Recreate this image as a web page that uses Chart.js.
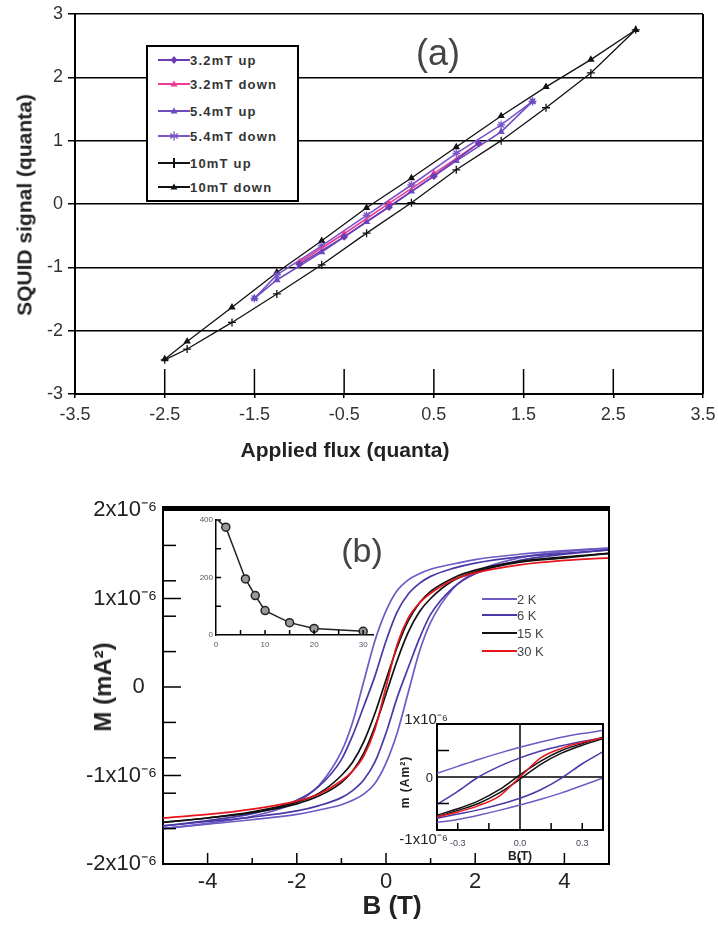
<!DOCTYPE html>
<html lang="en">
<head>
<meta charset="utf-8">
<title>SQUID signal and magnetisation loops</title>
<script src="https://cdn.jsdelivr.net/npm/chart.js@4.4.1/dist/chart.umd.min.js"></script>
<style>
  html, body { margin: 0; padding: 0; background: #fff; }
  body { position: relative; width: 718px; height: 931px; overflow: hidden;
         font-family: "Liberation Sans", Arial, sans-serif; color: #222; }
  canvas { position: absolute; }
  .t { position: absolute; white-space: nowrap; line-height: 1; }
  .c { transform: translate(-50%, -50%); }
  .r { transform: translate(-100%, -50%); }
  .rot { transform: translate(-50%, -50%) rotate(-90deg); }
  #legendA { position: absolute; left: 146px; top: 45px; width: 149px; height: 153px;
             border: 2px solid #000; background: #fff; }
  .row { position: absolute; display: flex; align-items: center; height: 14px; }
  #legendA span { font-weight: bold; font-size: 13px; letter-spacing: 1.2px; color: #333; }
  .legB span { font-size: 13px; color: #444; }
  .legB i { display: inline-block; width: 35px; height: 2px; }
</style>
</head>
<body>
<canvas id="chartA" width="718" height="470" style="left:0;top:0"></canvas>
<canvas id="chartB" width="718" height="441" style="left:0;top:490px"></canvas>
<canvas id="insetT" width="200" height="150" style="left:180px;top:505px"></canvas>
<canvas id="insetB" width="238" height="160" style="left:380px;top:700px"></canvas>

<div class="t rot" style="left:24px;top:205px;font-weight:bold;font-size:21px">SQUID signal (quanta)</div>
<div class="t c" style="left:345px;top:449px;font-weight:bold;font-size:21px">Applied flux (quanta)</div>
<div class="t c" style="left:438px;top:53px;font-size:36px;color:#444">(a)</div>
<div id="legendA"></div>

<div class="t rot" style="left:103px;top:687px;font-weight:bold;font-size:24px">M (mA²)</div>
<div class="t c" style="left:392px;top:905px;font-weight:bold;font-size:26px">B (T)</div>
<div class="t c" style="left:362px;top:550px;font-size:34px;color:#444">(b)</div>

<div class="t r" style="left:448px;top:718px;font-size:15px">1x10⁻⁶</div>
<div class="t r" style="left:433px;top:777px;font-size:13px">0</div>
<div class="t r" style="left:448px;top:838px;font-size:15px">-1x10⁻⁶</div>
<div class="t rot" style="left:405px;top:782px;font-weight:bold;font-size:12px;letter-spacing:1px">m (Am²)</div>
<div class="t c" style="left:520px;top:856px;font-weight:bold;font-size:12px">B(T)</div>

<script>
const FONT = '"Liberation Sans", Arial, sans-serif';
Chart.defaults.font.family = FONT;
Chart.defaults.color = '#222';

// ---- (a) SQUID signal vs applied flux, in flux quanta ----
const aNames = ['3.2mT up', '3.2mT down', '5.4mT up', '5.4mT down', '10mT up', '10mT down'];
const flux32Up = [-1.0, -0.5, 0.0, 0.5, 1.0];
const sig32Up = [-0.95, -0.52, -0.05, 0.44, 0.96];
const flux32Down = [1.0, 0.5, 0.0, -0.5, -1.0];
const sig32Down = [0.96, 0.48, 0.01, -0.47, -0.92];
const flux54Up = [-1.5, -1.25, -0.75, -0.25, 0.25, 0.75, 1.25, 1.6];
const sig54Up = [-1.49, -1.2, -0.76, -0.28, 0.2, 0.68, 1.14, 1.62];
const flux54Down = [1.6, 1.25, 0.75, 0.25, -0.25, -0.75, -1.25, -1.5];
const sig54Down = [1.62, 1.25, 0.8, 0.3, -0.18, -0.66, -1.12, -1.49];
const flux10Up = [-2.5, -2.25, -1.75, -1.25, -0.75, -0.25, 0.25, 0.75, 1.25, 1.75, 2.25, 2.75];
const sig10Up = [-2.46, -2.29, -1.87, -1.42, -0.96, -0.46, 0.02, 0.54, 1.0, 1.52, 2.07, 2.75];
const flux10Down = [2.75, 2.25, 1.75, 1.25, 0.75, 0.25, -0.25, -0.75, -1.25, -1.75, -2.25, -2.5];
const sig10Down = [2.75, 2.28, 1.85, 1.39, 0.9, 0.41, -0.06, -0.58, -1.08, -1.63, -2.17, -2.45];
const aColors = ['#6a3db5', '#ec3b96', '#6f4cc0', '#7b55c8', '#111111', '#111111'];
const aMarkers = ['rectRot', 'triangle', 'triangle', 'star', 'cross', 'triangle'];
const fluxInnerTicks = [-2.5, -1.5, -0.5, 0.5, 1.5, 2.5];

// ---- (b) magnetic moment vs field, moment in units of 1e-6 ----
const bNames = ['2 K', '6 K', '15 K', '30 K'];
const bColors = ['#7059c4', '#4a38a6', '#111111', '#e8141c'];
const bField = [-5, -4, -3, -2, -1.5, -1, -0.75, -0.5, -0.25, 0, 0.25, 0.5, 0.75, 1, 1.5, 2, 3, 4, 5];
const m2K_down = [-1.60, -1.54, -1.46, -1.30, -1.11, -0.73, -0.40, 0.06, 0.52, 0.86, 1.09, 1.21, 1.28, 1.33, 1.39, 1.44, 1.50, 1.54, 1.57];
const m2K_up = [-1.60, -1.55, -1.50, -1.44, -1.39, -1.33, -1.28, -1.21, -1.09, -0.86, -0.52, -0.06, 0.40, 0.73, 1.11, 1.30, 1.46, 1.53, 1.57];
const m6K_down = [-1.57, -1.51, -1.43, -1.28, -1.12, -0.82, -0.55, -0.22, 0.12, 0.52, 0.85, 1.05, 1.17, 1.25, 1.34, 1.40, 1.47, 1.51, 1.55];
const m6K_up = [-1.57, -1.52, -1.47, -1.40, -1.34, -1.25, -1.17, -1.05, -0.85, -0.52, -0.12, 0.22, 0.55, 0.82, 1.12, 1.28, 1.43, 1.50, 1.55];
const m15K_down = [-1.53, -1.48, -1.41, -1.30, -1.20, -1.00, -0.85, -0.62, -0.30, 0.08, 0.45, 0.75, 0.95, 1.08, 1.23, 1.32, 1.42, 1.47, 1.51];
const m15K_up = [-1.53, -1.48, -1.42, -1.32, -1.23, -1.08, -0.95, -0.75, -0.45, -0.08, 0.30, 0.62, 0.85, 1.00, 1.20, 1.30, 1.41, 1.46, 1.51];
const m30K = [-1.48, -1.44, -1.38, -1.29, -1.21, -1.06, -0.95, -0.78, -0.48, 0.00, 0.48, 0.78, 0.95, 1.06, 1.21, 1.29, 1.38, 1.43, 1.46];
const bTicks = [-5, -4, -3, -2, -1, 0, 1, 2, 3, 4, 5];
const mTicks = [-2, -1.6, -1.2, -1, -0.8, -0.4, 0, 0.4, 0.8, 1, 1.2, 1.6, 2];

// top-left inset
const insetTemp = [0.5, 2, 6, 8, 10, 15, 20, 30];
const insetVal = [398, 375, 195, 137, 85, 43, 23, 13];
const insetTempTicks = [0, 5, 10, 15, 20, 25, 30];
const insetValTicks = [0, 100, 200, 300, 400];

// bottom-right inset (low field zoom)
const bZoom = [-0.4, -0.3, -0.2, -0.1, 0, 0.1, 0.2, 0.3, 0.4];
const z2K_down = [0.07, 0.20, 0.33, 0.45, 0.56, 0.66, 0.75, 0.82, 0.88];
const z2K_up = [-0.86, -0.80, -0.72, -0.63, -0.53, -0.42, -0.30, -0.16, -0.02];
const z6K_down = [-0.52, -0.27, 0.00, 0.20, 0.36, 0.49, 0.59, 0.67, 0.74];
const z6K_up = [-0.78, -0.70, -0.62, -0.52, -0.40, -0.24, -0.02, 0.25, 0.48];
const z15K_down = [-0.72, -0.60, -0.45, -0.24, 0.04, 0.30, 0.50, 0.63, 0.75];
const z15K_up = [-0.75, -0.63, -0.50, -0.30, -0.04, 0.24, 0.45, 0.60, 0.72];
const z30K = [-0.75, -0.66, -0.54, -0.36, 0.00, 0.36, 0.54, 0.65, 0.74];
const bZoomTicks = [-0.3, -0.15, 0, 0.15, 0.3];

// --- helpers ---
function pts(xs, ys) {
    return xs.map((x, i) => ({ x: x, y: ys[i] }));
}

function line(ctx, x1, y1, x2, y2) {
    ctx.beginPath();
    ctx.moveTo(x1, y1);
    ctx.lineTo(x2, y2);
    ctx.stroke();
}

// inward tick marks, a top/right frame and optional zero cross lines
function framePlugin(cfg) {
    return {
        id: 'frame',
        beforeDatasetsDraw(chart) {
            if (!cfg.cross) return;
            const { ctx, chartArea: a, scales } = chart;
            ctx.save();
            ctx.strokeStyle = '#000';
            ctx.lineWidth = 1.5;
            const x0 = scales.x.getPixelForValue(0);
            const y0 = scales.y.getPixelForValue(0);
            line(ctx, x0, a.top, x0, a.bottom);
            line(ctx, a.left, y0, a.right, y0);
            ctx.restore();
        },
        afterDraw(chart) {
            const { ctx, chartArea: a, scales } = chart;
            ctx.save();
            ctx.strokeStyle = '#000';
            if (cfg.top) {
                ctx.lineWidth = cfg.top;
                line(ctx, a.left - 1, a.top - cfg.top / 2 + 1, a.right + 1, a.top - cfg.top / 2 + 1);
            }
            if (cfg.right) {
                ctx.lineWidth = cfg.right;
                line(ctx, a.right, a.top, a.right, a.bottom);
            }
            ctx.lineWidth = cfg.tickWidth || 1.5;
            (cfg.xMarks || []).forEach(([vals, len]) => {
                vals.forEach(v => {
                    const p = scales.x.getPixelForValue(v);
                    line(ctx, p, a.bottom, p, a.bottom - len);
                });
            });
            (cfg.yMarks || []).forEach(([vals, len]) => {
                vals.forEach(v => {
                    const p = scales.y.getPixelForValue(v);
                    line(ctx, a.left, p, a.left + len, p);
                });
            });
            ctx.restore();
        }
    };
}

const noPlugins = { legend: { display: false }, tooltip: { enabled: false } };

// --- (a) chart ---
const aSeries = [
    [flux32Up, sig32Up], [flux32Down, sig32Down],
    [flux54Up, sig54Up], [flux54Down, sig54Down],
    [flux10Up, sig10Up], [flux10Down, sig10Down]
];

new Chart(document.getElementById('chartA'), {
    type: 'scatter',
    data: {
        datasets: aSeries.map((s, i) => ({
            label: aNames[i],
            data: pts(s[0], s[1]),
            showLine: true,
            order: i,
            borderColor: aColors[i],
            backgroundColor: aColors[i],
            borderWidth: i >= 4 ? 1.3 : 1.6,
            pointStyle: aMarkers[i],
            pointRadius: aMarkers[i] === 'cross' || aMarkers[i] === 'star' ? 4 : 3,
            pointBorderWidth: 1.3,
            tension: 0
        }))
    },
    options: {
        responsive: false,
        animation: false,
        devicePixelRatio: 1,
        layout: { padding: { left: 0, right: 15, top: 14, bottom: 0 } },
        plugins: noPlugins,
        scales: {
            x: {
                type: 'linear', min: -3.5, max: 3.5,
                ticks: { stepSize: 1, autoSkip: false, maxRotation: 0, padding: 6,
                         font: { size: 18 }, color: '#333', callback: v => v.toFixed(1) },
                grid: { drawOnChartArea: false, color: '#000', lineWidth: 1.5, tickLength: 4 },
                border: { color: '#000', width: 2 },
                afterFit(s) { s.height = 76; s.paddingLeft = 0; s.paddingRight = 0; }
            },
            y: {
                type: 'linear', min: -3, max: 3,
                ticks: { stepSize: 1, autoSkip: false, padding: 5, font: { size: 18 }, color: '#333' },
                grid: { color: '#000', lineWidth: 1.5, tickLength: 7 },
                border: { color: '#000', width: 2 },
                afterFit(s) { s.width = 75; s.paddingTop = 0; s.paddingBottom = 0; }
            }
        }
    },
    plugins: [framePlugin({ right: 2, xMarks: [[fluxInnerTicks, 25]] })]
});

// legend (a)
const legendA = document.getElementById('legendA');
const legendRowsA = [13, 37, 64, 89, 116, 140];
function markerSvg(kind, color) {
    let m = '';
    if (kind === 'rectRot') m = `<polygon points="16,2 19.5,6 16,10 12.5,6" fill="${color}"/>`;
    if (kind === 'triangle') m = `<polygon points="16,2.5 19.5,8.5 12.5,8.5" fill="${color}"/>`;
    if (kind === 'star') m = `<path d="M16 1.5V10.5M12 3.5L20 8.5M12 8.5L20 3.5" stroke="${color}" stroke-width="1.4"/>`;
    if (kind === 'cross') m = `<path d="M16 1V11" stroke="${color}" stroke-width="2"/>`;
    return `<svg width="32" height="12" viewBox="0 0 32 12"><line x1="0" y1="6" x2="32" y2="6" stroke="${color}" stroke-width="2"/>${m}</svg>`;
}
aNames.forEach((name, i) => {
    const row = document.createElement('div');
    row.className = 'row';
    row.style.left = '10px';
    row.style.top = (legendRowsA[i] - 7) + 'px';
    row.innerHTML = markerSvg(aMarkers[i], aColors[i]) + `<span>${name}</span>`;
    legendA.appendChild(row);
});

// --- (b) chart ---
function curve(data, color, order) {
    return { data: pts(bField, data), showLine: true, order: order, borderColor: color,
             borderWidth: 1.7, pointRadius: 0, cubicInterpolationMode: 'monotone' };
}

function momentLabel(v) {
    if (v === 0) return '0  ';
    if (Math.abs(v) === 1 || Math.abs(v) === 2) return v + 'x10⁻⁶';
    return '';
}

new Chart(document.getElementById('chartB'), {
    type: 'scatter',
    data: {
        datasets: [
            curve(m2K_down, bColors[0], 3), curve(m2K_up, bColors[0], 3),
            curve(m6K_down, bColors[1], 2), curve(m6K_up, bColors[1], 2),
            curve(m15K_down, bColors[2], 1), curve(m15K_up, bColors[2], 1),
            curve(m30K, bColors[3], 0)
        ]
    },
    options: {
        responsive: false,
        animation: false,
        devicePixelRatio: 1,
        layout: { padding: { left: 0, right: 109, top: 20, bottom: 0 } },
        plugins: noPlugins,
        scales: {
            x: {
                type: 'linear', min: -5, max: 5,
                afterBuildTicks(s) { s.ticks = bTicks.map(v => ({ value: v })); },
                ticks: { autoSkip: false, maxRotation: 0, padding: 5, font: { size: 22 }, color: '#222',
                         callback: v => (v % 2 === 0 && Math.abs(v) < 5) ? String(v) : '' },
                grid: { display: false, drawTicks: false },
                border: { color: '#000', width: 2 },
                afterFit(s) { s.height = 67; s.paddingLeft = 0; s.paddingRight = 0; }
            },
            y: {
                type: 'linear', min: -2, max: 2,
                afterBuildTicks(s) { s.ticks = mTicks.map(v => ({ value: v })); },
                ticks: { autoSkip: false, padding: 6, font: { size: 22 }, color: '#222', callback: momentLabel },
                grid: { display: false, drawTicks: false },
                border: { color: '#000', width: 2 },
                afterFit(s) { s.width = 163; s.paddingTop = 0; s.paddingBottom = 0; }
            }
        }
    },
    plugins: [framePlugin({
        top: 5, right: 2,
        xMarks: [[[-4, -2, 0, 2, 4], 11], [[-3, -1, 1, 3], 6]],
        yMarks: [[[-1.6, -1.2, -0.8, -0.4, 0.4, 0.8, 1.2, 1.6], 13], [[-1, 0, 1], 18]]
    })]
});

// legend (b)
const legendRowsB = [599, 615, 633, 651];
bNames.forEach((name, i) => {
    const row = document.createElement('div');
    row.className = 'row legB';
    row.style.left = '482px';
    row.style.top = (legendRowsB[i] - 7) + 'px';
    row.innerHTML = `<i style="background:${bColors[i]}"></i><span>${name}</span>`;
    document.body.appendChild(row);
});

// --- top-left inset ---
new Chart(document.getElementById('insetT'), {
    type: 'scatter',
    data: {
        datasets: [{
            data: pts(insetTemp, insetVal),
            showLine: true,
            borderColor: '#222',
            borderWidth: 1.5,
            pointRadius: insetTemp.map((t, i) => i === 0 ? 0 : 4),
            pointBackgroundColor: '#9a9a9a',
            pointBorderColor: '#222',
            pointBorderWidth: 1.5,
            tension: 0
        }]
    },
    options: {
        responsive: false,
        animation: false,
        devicePixelRatio: 1,
        layout: { padding: { left: 0, right: 7, top: 15, bottom: 0 } },
        plugins: noPlugins,
        scales: {
            x: {
                type: 'linear', min: 0, max: 32,
                afterBuildTicks(s) { s.ticks = insetTempTicks.map(v => ({ value: v })); },
                ticks: { autoSkip: false, maxRotation: 0, padding: 5, font: { size: 8 }, color: '#556',
                         callback: v => v % 10 === 0 ? String(v) : '' },
                grid: { display: false, drawTicks: false },
                border: { color: '#000', width: 1.5 },
                afterFit(s) { s.height = 20; s.paddingLeft = 0; s.paddingRight = 0; }
            },
            y: {
                type: 'linear', min: 0, max: 400,
                afterBuildTicks(s) { s.ticks = insetValTicks.map(v => ({ value: v })); },
                ticks: { autoSkip: false, padding: 3, font: { size: 8 }, color: '#556',
                         callback: v => v % 200 === 0 ? String(v) : '' },
                grid: { display: false, drawTicks: false },
                border: { color: '#000', width: 1.5 },
                afterFit(s) { s.width = 36; s.paddingTop = 0; s.paddingBottom = 0; }
            }
        }
    },
    plugins: [framePlugin({ xMarks: [[insetTempTicks.slice(1), 5]], yMarks: [[insetValTicks.slice(1), 5]] })]
});

// --- bottom-right inset ---
function zoomCurve(data, color, order) {
    return { data: pts(bZoom, data), showLine: true, order: order, borderColor: color,
             borderWidth: 1.5, pointRadius: 0, cubicInterpolationMode: 'monotone' };
}

new Chart(document.getElementById('insetB'), {
    type: 'scatter',
    data: {
        datasets: [
            zoomCurve(z2K_down, bColors[0], 3), zoomCurve(z2K_up, bColors[0], 3),
            zoomCurve(z6K_down, bColors[1], 2), zoomCurve(z6K_up, bColors[1], 2),
            zoomCurve(z15K_down, bColors[2], 1), zoomCurve(z15K_up, bColors[2], 1),
            zoomCurve(z30K, bColors[3], 0)
        ]
    },
    options: {
        responsive: false,
        animation: false,
        devicePixelRatio: 1,
        layout: { padding: { left: 0, right: 15, top: 24, bottom: 0 } },
        plugins: noPlugins,
        scales: {
            x: {
                type: 'linear', min: -0.4, max: 0.4,
                afterBuildTicks(s) { s.ticks = bZoomTicks.map(v => ({ value: v })); },
                ticks: { autoSkip: false, maxRotation: 0, padding: 8, font: { size: 9 }, color: '#445',
                         callback: v => v === 0 ? '0.0' : (Math.abs(v) === 0.3 ? v.toFixed(1) : '') },
                grid: { display: false, drawTicks: false },
                border: { color: '#000', width: 2 },
                afterFit(s) { s.height = 30; s.paddingLeft = 0; s.paddingRight = 0; }
            },
            y: {
                type: 'linear', min: -1, max: 1,
                ticks: { display: false },
                grid: { display: false, drawTicks: false },
                border: { color: '#000', width: 2 },
                afterFit(s) { s.width = 57; s.paddingTop = 0; s.paddingBottom = 0; }
            }
        }
    },
    plugins: [framePlugin({
        top: 2, right: 2, cross: true,
        xMarks: [[[-0.3, -0.15, 0.15, 0.3], 7]],
        yMarks: [[[-0.5, 0.5], 12]]
    })]
});
</script>
</body>
</html>
